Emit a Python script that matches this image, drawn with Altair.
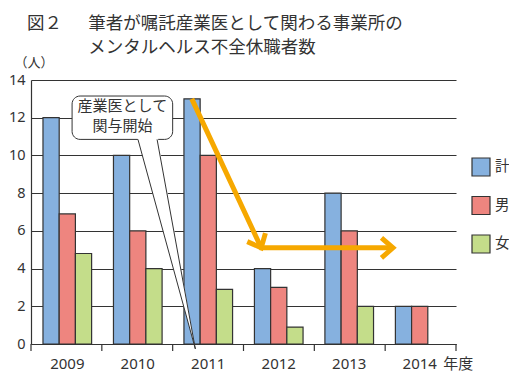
import altair as alt
import pandas as pd

# ---- data ----
years = ["2009", "2010", "2011", "2012", "2013", "2014"]
series = ["計", "男", "女"]
total = [12, 10, 13, 4, 8, 2]
male = [6.9, 6, 10, 3, 6, 2]
female = [4.8, 4, 2.9, 0.9, 2, None]
colors = ["#86B1DF", "#EE857F", "#C4DD8A"]
y_ticks = [0, 2, 4, 6, 8, 10, 12, 14]

# year-band boundaries (in band units, 0..6) for the x tick marks
tick_pos = [0, 1, 2, 3, 4, 5, 6]

# orange arrow (x in band units, y in persons)
arrow_x = [2.27, 3.25, 5.11]
arrow_y = [13.0, 5.1, 5.1]
head_x = [3.25, 5.11]
head_y = [5.1, 5.1]
head_angle = [65, 0]

# callout "産業医として関与開始"
box_x = [0.58, 2.0]
box_y = [13.15, 10.85]
tail_fill_y = [10.97, -0.26]
tail_fill_l = [1.50, 2.32]
tail_fill_r = [1.79, 2.32]
tail_y = [10.85, -0.26]
tail_left = [1.51, 2.32]
tail_right = [1.78, 2.32]
note_lines = ["産業医として", "関与開始"]
note_x = [1.29, 1.29]
note_y = [12.6, 11.55]

unit_label = "（人）"
year_suffix = ["年度"]
suffix_x = [5.82]
suffix_y = [-1.3]
title_line1 = ["図２\u3000\u2002筆者が嘱託産業医として関わる事業所の"]
title_line2 = ["メンタルヘルス不全休職者数"]

JP = "Noto Sans CJK JP"
LAT = "Noto Sans"
INK = "#333333"
ORANGE = "#F6A800"

W, H = 425, 264
TFS = 17.5  # title font size

# ---- tables ----
rows = []
for i, yr in enumerate(years):
    for s, vals in zip(series, [total, male, female]):
        if vals[i] is not None:
            rows.append({"year": yr, "series": s, "value": vals[i]})
bars_df = pd.DataFrame(rows)

ticks_df = pd.DataFrame({"b": tick_pos})
arrow_df = pd.DataFrame({"x": arrow_x, "y": arrow_y, "i": list(range(len(arrow_x)))})
head_df = pd.DataFrame({"x": head_x, "y": head_y, "ang": head_angle})
box_df = pd.DataFrame({"x": [box_x[0]], "x2": [box_x[1]], "y": [box_y[0]], "y2": [box_y[1]]})
tailfill_df = pd.DataFrame({"y": tail_fill_y, "xl": tail_fill_l, "xr": tail_fill_r})
tailedge_df = pd.DataFrame({
    "edge": ["L", "L", "R", "R"],
    "x": [tail_left[0], tail_left[1], tail_right[0], tail_right[1]],
    "y": [tail_y[0], tail_y[1], tail_y[0], tail_y[1]],
    "i": [0, 1, 0, 1],
})
note_df = pd.DataFrame({"t": note_lines, "x": note_x, "y": note_y})
suffix_df = pd.DataFrame({"t": year_suffix, "x": suffix_x, "y": suffix_y})
t1_df = pd.DataFrame({"t": title_line1})
t2_df = pd.DataFrame({"t": title_line2})

yscale = alt.Scale(domain=[0, 14], nice=False, zero=True)
qscale = alt.Scale(domain=[0, 6], nice=False, zero=False)


def QX(field):
    return alt.X(field, type="quantitative", scale=qscale, axis=None)


def QY(field):
    return alt.Y(field, type="quantitative", scale=yscale, axis=None)


bars = alt.Chart(bars_df).mark_bar(stroke=INK, strokeWidth=1.2).encode(
    x=alt.X("year:N", sort=years,
            scale=alt.Scale(paddingInner=0.31, paddingOuter=0.17),
            axis=alt.Axis(title=None, labelAngle=0, ticks=False, tickSize=0,
                          labelPadding=24.5, labelBaseline="alphabetic",
                          labelFont=LAT, labelFontSize=15, labelColor=INK,
                          domainColor=INK, domainWidth=1.2, grid=False)),
    xOffset=alt.XOffset("series:N", sort=series,
                        scale=alt.Scale(domain=series, paddingInner=0, paddingOuter=0)),
    y=alt.Y("value:Q", scale=yscale,
            axis=alt.Axis(values=y_ticks, title=unit_label, titleAngle=0,
                          titleAlign="left", titleBaseline="middle",
                          titleX=-17, titleY=-18, titleFont=JP, titleFontSize=13,
                          titleFontWeight="normal", titleColor=INK,
                          ticks=False, tickSize=0, labelPadding=6,
                          labelOverlap=False,
                          labelFont=LAT, labelFontSize=14.5, labelColor=INK,
                          domainColor=INK, domainWidth=1.2,
                          grid=True, gridColor=INK, gridWidth=1.1)),
    fill=alt.Fill("series:N", sort=series,
                  scale=alt.Scale(domain=series, range=colors),
                  legend=alt.Legend(title=None, orient="none", legendX=440, legendY=77,
                                    symbolType="square", symbolSize=324,
                                    symbolStrokeColor=INK, symbolStrokeWidth=1.2,
                                    labelFont=JP, labelFontSize=14.5, labelColor=INK,
                                    labelOffset=4, rowPadding=14.5, padding=0)),
)

ticks = alt.Chart(ticks_df).mark_rule(color=INK, strokeWidth=1.2).encode(
    x=QX("b"), y=alt.value(H), y2=alt.value(H + 7)
)

arrow = alt.Chart(arrow_df).mark_line(color=ORANGE, strokeWidth=5,
                                      strokeJoin="miter", strokeCap="butt").encode(
    x=QX("x"), y=QY("y"), order="i:Q"
)

heads = alt.Chart(head_df).mark_point(
    shape="M-1.15,-1L0,0L-1.15,1", filled=False, size=400, strokeWidth=5,
    color=ORANGE, opacity=1, strokeJoin="miter", strokeCap="butt"
).encode(x=QX("x"), y=QY("y"), angle=alt.Angle("ang:Q", scale=None))

box = alt.Chart(box_df).mark_rect(fill="white", stroke=INK, strokeWidth=1,
                                  cornerRadius=8).encode(
    x=QX("x"), x2="x2", y=QY("y"), y2="y2"
)

tailfill = alt.Chart(tailfill_df).mark_area(orient="horizontal", fill="white",
                                            opacity=1).encode(
    y=QY("y"), x=QX("xl"), x2="xr"
)

tailedge = alt.Chart(tailedge_df).mark_line(color=INK, strokeWidth=1).encode(
    x=QX("x"), y=QY("y"), detail="edge:N", order="i:Q"
)

note = alt.Chart(note_df).mark_text(font=JP, fontSize=15, color=INK,
                                    align="center", baseline="middle").encode(
    x=QX("x"), y=QY("y"), text="t:N"
)

suffix = alt.Chart(suffix_df).mark_text(font=JP, fontSize=15, color=INK,
                                        align="left", baseline="alphabetic").encode(
    x=QX("x"), y=QY("y"), text="t:N"
)

# title, two lines (second line indented under the text of the first)
title1 = alt.Chart(t1_df).mark_text(font=JP, fontSize=TFS, color=INK,
                                    align="left", baseline="alphabetic").encode(
    x=alt.value(-4), y=alt.value(-51.5), text="t:N"
)
title2 = alt.Chart(t2_df).mark_text(font=JP, fontSize=TFS, color=INK,
                                    align="left", baseline="alphabetic").encode(
    x=alt.value(-4 + 3.5 * TFS), y=alt.value(-27), text="t:N"
)

chart = alt.layer(
    bars, ticks, arrow, heads, box, tailfill, tailedge, note, suffix, title1, title2
).resolve_scale(x="independent", y="independent").properties(
    width=W, height=H,
    autosize=alt.AutoSizeParams(type="none"),
    padding={"left": 23, "top": 72, "right": 53, "bottom": 29},
).configure_view(stroke=None)

chart.save("out.html", embed_options={"renderer": "svg", "actions": False})
